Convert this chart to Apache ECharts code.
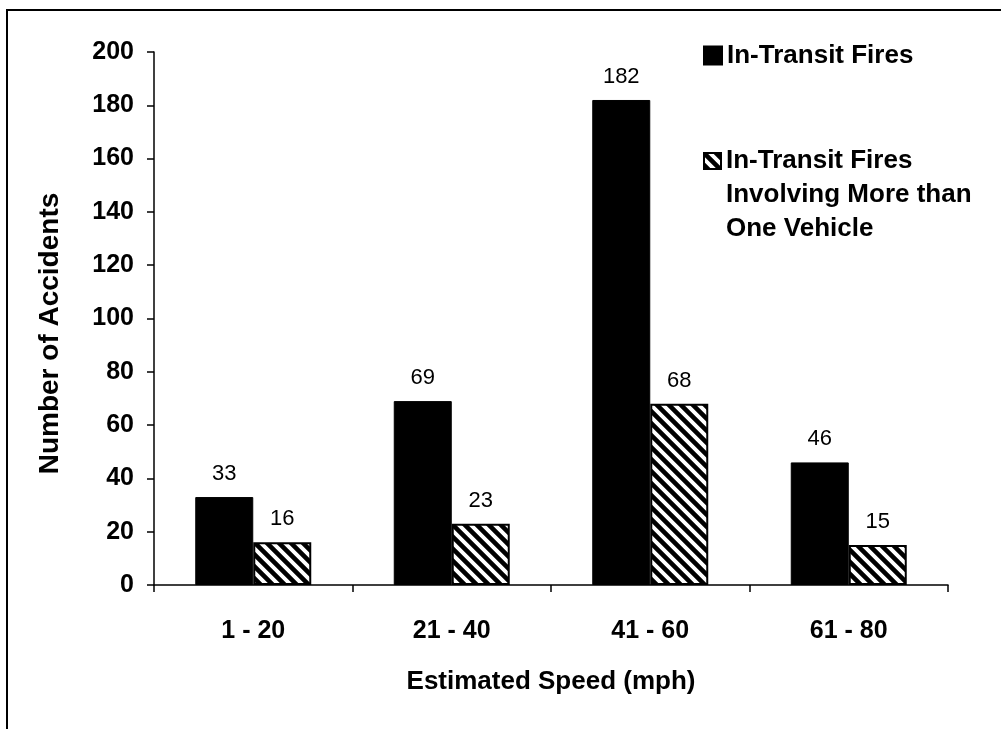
<!DOCTYPE html>
<html>
<head>
<meta charset="utf-8">
<title>In-Transit Fires by Estimated Speed</title>
<script src="https://cdn.jsdelivr.net/npm/echarts@6/dist/echarts.min.js"></script>
<style>
  html, body { margin: 0; padding: 0; background: #ffffff; }
  #chart { width: 1001px; height: 729px; }
</style>
</head>
<body>
<div id="chart"></div>
<script>
// Speed bands on the category axis
const categories = ['1 - 20', '21 - 40', '41 - 60', '61 - 80'];
// Number of accidents per speed band
const inTransitFires = [33, 69, 182, 46];
const multiVehicleFires = [16, 23, 68, 15];
// Value axis range
const yMin = 0;
const yMax = 200;
const yStep = 20;

const seriesNames = [
  'In-Transit Fires',
  'In-Transit Fires\nInvolving More than\nOne Vehicle'
];

const FONT = '"Liberation Sans", Arial, Helvetica, sans-serif';

// Diagonal black-on-white hatch used for the second series
function makeHatch() {
  const size = 12;
  const c = document.createElement('canvas');
  c.width = size;
  c.height = size;
  const ctx = c.getContext('2d');
  ctx.fillStyle = '#ffffff';
  ctx.fillRect(0, 0, size, size);
  ctx.strokeStyle = '#000000';
  ctx.lineWidth = 4.6;
  ctx.lineCap = 'square';
  for (let k = -1; k <= 1; k++) {
    ctx.beginPath();
    ctx.moveTo(-2 + k * size, -2);
    ctx.lineTo(size + 2 + k * size, size + 2);
    ctx.stroke();
  }
  return c;
}
const hatch = { image: makeHatch(), repeat: 'repeat' };

const chart = echarts.init(document.getElementById('chart'), null, { renderer: 'canvas' });

const valueLabel = {
  show: true,
  position: 'top',
  distance: 12,
  color: '#000',
  fontFamily: FONT,
  fontSize: 22,
  fontWeight: 'normal'
};

const legendText = {
  color: '#000',
  fontFamily: FONT,
  fontSize: 26,
  fontWeight: 'bold',
  lineHeight: 33
};

chart.setOption({
  backgroundColor: '#ffffff',
  animation: false,
  textStyle: { fontFamily: FONT },
  grid: { left: 154, right: 53, top: 52, bottom: 144, containLabel: false },
  legend: [
    {
      data: [seriesNames[0]],
      left: 698,
      top: 34,
      icon: 'rect',
      itemWidth: 18,
      itemHeight: 18,
      textStyle: legendText,
      selectedMode: false
    },
    {
      data: [seriesNames[1]],
      left: 698,
      top: 71,
      icon: 'rect',
      itemWidth: 17,
      itemHeight: 16,
      textStyle: Object.assign({}, legendText, { lineHeight: 34 }),
      // two leading blank lines keep the marker level with the first text line
      formatter: function (name) { return '\n\n' + name; },
      selectedMode: false
    }
  ],
  xAxis: {
    type: 'category',
    data: categories,
    name: 'Estimated Speed (mph)',
    nameLocation: 'middle',
    nameGap: 84,
    nameTextStyle: { color: '#000', fontFamily: FONT, fontSize: 26, fontWeight: 'bold' },
    axisLine: { lineStyle: { color: '#000', width: 1.5 } },
    axisTick: { show: true, inside: false, length: 7, lineStyle: { color: '#000', width: 1.5 } },
    axisLabel: { color: '#000', fontFamily: FONT, fontSize: 25, fontWeight: 'bold', margin: 34 },
    splitLine: { show: false }
  },
  yAxis: {
    type: 'value',
    min: yMin,
    max: yMax,
    interval: yStep,
    name: 'Number of Accidents',
    nameLocation: 'middle',
    nameGap: 90,
    nameRotate: 90,
    nameTextStyle: { color: '#000', fontFamily: FONT, fontSize: 28, fontWeight: 'bold', padding: [0, 30, 0, 0] },
    axisLine: { show: true, lineStyle: { color: '#000', width: 1.5 } },
    axisTick: { show: true, inside: false, length: 7, lineStyle: { color: '#000', width: 1.5 } },
    axisLabel: { color: '#000', fontFamily: FONT, fontSize: 25, fontWeight: 'bold', margin: 20 },
    splitLine: { show: false }
  },
  series: [
    {
      name: seriesNames[0],
      type: 'bar',
      data: inTransitFires,
      barWidth: 58,
      barGap: '0%',
      itemStyle: { color: '#000000', borderColor: '#000000', borderWidth: 1 },
      label: valueLabel
    },
    {
      name: seriesNames[1],
      type: 'bar',
      data: multiVehicleFires,
      barWidth: 58,
      barGap: '0%',
      itemStyle: { color: hatch, borderColor: '#000000', borderWidth: 2 },
      label: valueLabel
    }
  ],
  graphic: [
    {
      // Frame drawn along the top and left edges
      type: 'rect',
      silent: true,
      shape: { x: 7, y: 10, width: 1200, height: 900 },
      style: { fill: 'none', stroke: '#000', lineWidth: 2 }
    }
  ]
});
</script>
</body>
</html>
